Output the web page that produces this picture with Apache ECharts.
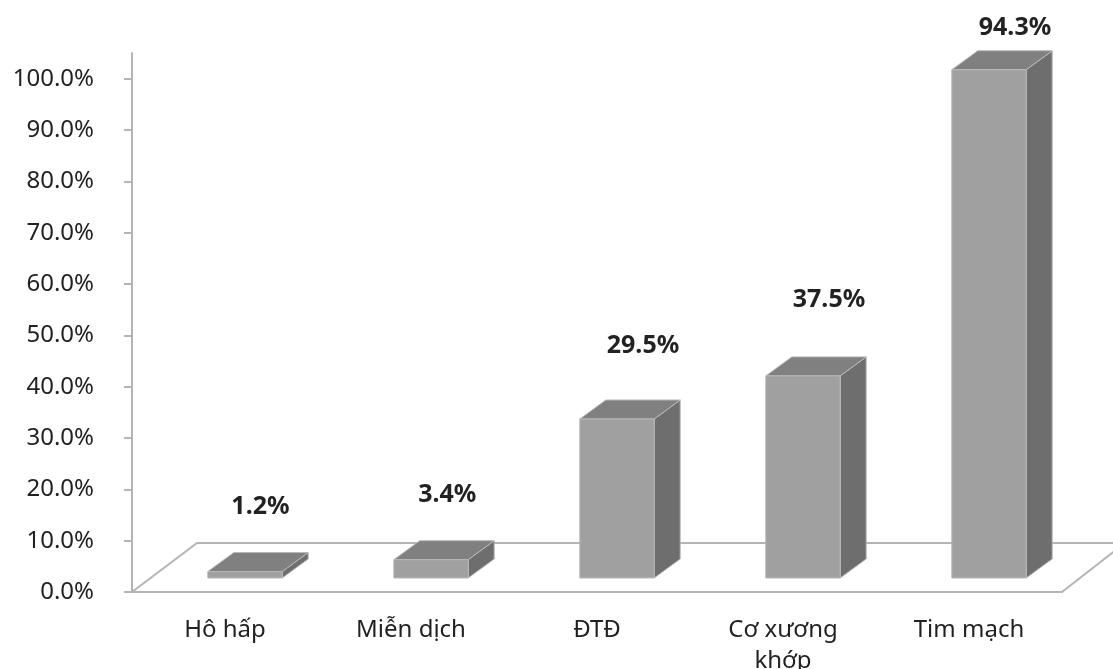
<!DOCTYPE html>
<html>
<head>
<meta charset="utf-8">
<script src="https://cdn.jsdelivr.net/npm/echarts@6/dist/echarts.min.js"></script>
<style>
  html, body { margin: 0; padding: 0; background: #fff; }
  #chart { width: 1113px; height: 669px; }
</style>
</head>
<body>
<div id="chart"></div>
<script>
const categories = ['Hô hấp', 'Miễn dịch', 'ĐTĐ', 'Cơ xương\nkhớp', 'Tim mạch']
const values = [1.2, 3.4, 29.5, 37.5, 94.3]
const yTicks = [0, 10, 20, 30, 40, 50, 60, 70, 80, 90, 100]

const FONT = 'Noto Sans'
const DEPTH_X = 26
const DEPTH_Y = -19
const LINE = '#b4b4b4'

const chart = echarts.init(document.getElementById('chart'))

function renderBar(params, api) {
  const idx = api.value(0)
  const val = api.value(1)
  const top = api.coord([idx, val])
  const base = api.coord([idx, 0])
  const w = api.size([1, 0])[0] * 0.4
  const x0 = top[0] - w / 2
  const x1 = top[0] + w / 2
  const yT = top[1]
  const yB = base[1]
  const h = yB - yT
  const stroke = { stroke: '#b8b8b8', lineWidth: 1 }
  // labels float a bit further up/right on taller bars (perspective)
  const lx = top[0] + Math.min(15 + 0.07 * h, 26)
  const ly = Math.max(yT - 64 - 0.06 * h, 28)
  return {
    type: 'group',
    children: [
      {
        type: 'polygon',
        shape: { points: [[x1, yT], [x1 + DEPTH_X, yT + DEPTH_Y], [x1 + DEPTH_X, yB + DEPTH_Y], [x1, yB]] },
        style: Object.assign({ fill: '#6e6e6e' }, stroke)
      },
      {
        type: 'polygon',
        shape: { points: [[x0, yT], [x0 + DEPTH_X, yT + DEPTH_Y], [x1 + DEPTH_X, yT + DEPTH_Y], [x1, yT]] },
        style: Object.assign({ fill: '#808080' }, stroke)
      },
      {
        type: 'rect',
        shape: { x: x0, y: yT, width: w, height: h },
        style: Object.assign({ fill: '#a0a0a0' }, stroke)
      },
      {
        type: 'text',
        x: lx,
        y: ly,
        style: {
          text: val.toFixed(1) + '%',
          fill: '#222',
          font: 'bold 25px "' + FONT + '"',
          align: 'center',
          verticalAlign: 'middle'
        }
      }
    ]
  }
}

const option = {
  animation: false,
  grid: [
    { left: 132, right: 51, top: 53, bottom: 77, outerBoundsMode: 'none' },
    { left: 152, right: 31, top: 39, bottom: 91, outerBoundsMode: 'none' }
  ],
  xAxis: [
    {
      type: 'category',
      gridIndex: 0,
      data: categories,
      boundaryGap: true,
      axisLine: { lineStyle: { color: LINE, width: 2 } },
      axisTick: { length: 7, lineStyle: { color: LINE, width: 2 } },
      axisLabel: {
        margin: 23,
        color: '#222',
        fontFamily: FONT,
        fontSize: 24,
        lineHeight: 31,
        interval: 0
      }
    },
    {
      type: 'category',
      gridIndex: 1,
      data: categories,
      show: false
    }
  ],
  yAxis: [
    {
      type: 'value',
      gridIndex: 0,
      min: 0,
      max: 105,
      splitLine: { show: false },
      axisLine: { show: true, lineStyle: { color: LINE, width: 2 } },
      axisTick: { show: true, length: 8, customValues: yTicks, lineStyle: { color: LINE, width: 2 } },
      axisLabel: {
        customValues: yTicks,
        formatter: v => v.toFixed(1) + '%',
        margin: 38,
        color: '#222',
        fontFamily: FONT,
        fontSize: 24
      }
    },
    {
      type: 'value',
      gridIndex: 1,
      min: 0,
      max: 100,
      show: false,
      splitLine: { show: false }
    }
  ],
  graphic: [
    {
      type: 'polyline',
      z: 0,
      shape: { points: [[132, 592], [197, 543], [1125, 543], [1062, 592]] },
      style: { stroke: LINE, lineWidth: 2, fill: null }
    }
  ],
  series: [
    {
      type: 'custom',
      xAxisIndex: 1,
      yAxisIndex: 1,
      renderItem: renderBar,
      data: values.map((v, i) => [i, v]),
      clip: false,
      z: 5
    }
  ]
}

chart.setOption(option)
</script>
</body>
</html>
